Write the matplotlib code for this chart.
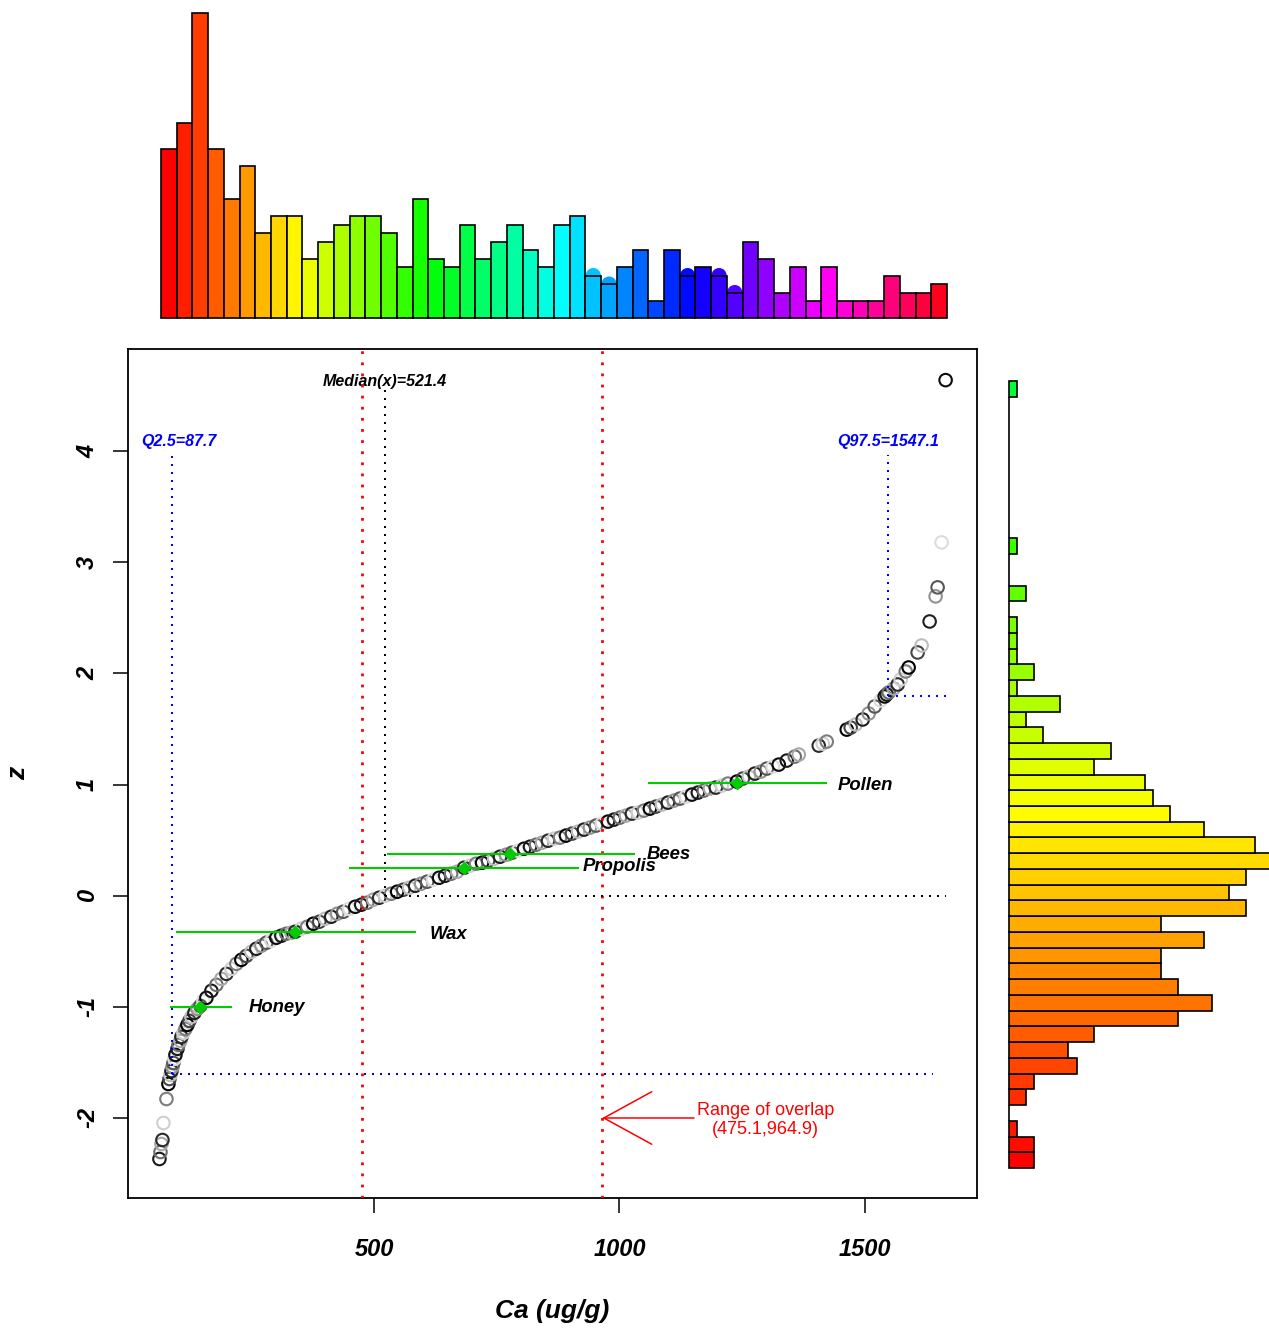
import colorsys
import matplotlib
matplotlib.use("Agg")
import matplotlib.pyplot as plt

plt.rcParams['font.family'] = ['Liberation Sans', 'DejaVu Sans']

W, H = 1269, 1329

# ---------------- data ----------------
ca_values = [62.1, 64.2, 66.2, 68.2, 70.3, 76.4, 80.4, 82.5, 84.5, 86.6, 88.6, 90.6, 92.7, 94.7,
             98.8, 100.8, 104.9, 106.9, 111.0, 115.1, 119.1, 123.2, 127.3, 133.4, 139.5,
             145.6, 151.7, 157.8, 168.0, 178.2, 188.4, 198.6, 208.8, 218.9, 229.1, 239.3,
             249.5, 259.7, 269.9, 280.0, 290.2, 300.4, 310.6, 320.8, 331.0, 339.1, 351.3,
             363.5, 375.8, 388.0, 400.2, 412.4, 424.6, 436.9, 449.1, 461.3, 473.5, 485.7,
             498.0, 510.2, 522.4, 534.6, 546.8, 559.1, 571.3, 583.5, 595.7, 607.9, 620.2,
             632.4, 644.6, 656.8, 669.0, 683.3, 695.5, 707.7, 719.9, 732.1, 744.4, 756.6,
             768.8, 781.0, 793.3, 805.5, 817.7, 829.9, 842.1, 854.4, 866.6, 878.8, 891.0,
             903.3, 915.5, 927.7, 939.9, 952.1, 964.4, 976.6, 988.8, 1001.0, 1013.2, 1025.5,
             1037.7, 1049.9, 1062.1, 1074.3, 1086.6, 1098.8, 1111.0, 1123.2, 1135.4, 1147.7,
             1159.9, 1172.1, 1184.3, 1196.5, 1208.8, 1221.0, 1239.3, 1251.5, 1263.7, 1276.0,
             1288.2, 1300.4, 1312.6, 1324.8, 1341.1, 1357.4, 1365.6, 1406.3, 1414.5, 1422.6,
             1463.4, 1471.5, 1481.7, 1496.0, 1508.2, 1520.4, 1532.6, 1540.8, 1544.9, 1549.0,
             1559.1, 1567.3, 1573.4, 1583.6, 1589.6, 1608.0, 1616.1, 1632.4, 1644.6, 1648.7,
             1656.8, 1665.0]
z_values = [-2.369, -2.306, -2.234, -2.198, -2.045, -1.829, -1.694, -1.649, -1.613, -1.577,
            -1.541, -1.505, -1.468, -1.432, -1.378, -1.342, -1.306, -1.270, -1.234, -1.198,
            -1.162, -1.126, -1.090, -1.054, -1.018, -0.991, -0.946, -0.919, -0.856, -0.802,
            -0.748, -0.703, -0.658, -0.613, -0.577, -0.541, -0.505, -0.477, -0.450, -0.423,
            -0.405, -0.378, -0.360, -0.342, -0.333, -0.324, -0.297, -0.279, -0.252, -0.234,
            -0.207, -0.189, -0.162, -0.144, -0.117, -0.099, -0.081, -0.063, -0.036, -0.018,
            0.0, 0.018, 0.036, 0.054, 0.072, 0.090, 0.108, 0.126, 0.144, 0.162, 0.180, 0.198,
            0.216, 0.252, 0.270, 0.288, 0.297, 0.315, 0.333, 0.351, 0.369, 0.387, 0.405,
            0.423, 0.441, 0.459, 0.477, 0.495, 0.514, 0.523, 0.541, 0.559, 0.577, 0.595,
            0.613, 0.631, 0.649, 0.667, 0.685, 0.703, 0.721, 0.739, 0.748, 0.766, 0.784,
            0.802, 0.820, 0.838, 0.856, 0.874, 0.892, 0.910, 0.928, 0.946, 0.964, 0.973,
            0.991, 1.009, 1.027, 1.054, 1.072, 1.099, 1.117, 1.144, 1.162, 1.180, 1.216,
            1.252, 1.270, 1.351, 1.369, 1.387, 1.495, 1.513, 1.541, 1.586, 1.640, 1.703,
            1.757, 1.793, 1.811, 1.829, 1.865, 1.901, 1.946, 2.018, 2.054, 2.189, 2.252,
            2.468, 2.694, 2.775, 3.180, 4.640]

top_counts = [20, 23, 36, 20, 14, 18, 10, 12, 12, 7, 9, 11, 12, 12, 10, 6, 14, 7, 6, 11,
              7, 9, 11, 8, 6, 11, 12, 5, 4, 6, 8, 2, 8, 5, 6, 5, 3, 9, 7, 3,
              6, 2, 6, 2, 2, 2, 5, 3, 3, 4]
top_dot_bins = [28, 29, 34, 36, 37]

right_counts = [3, 3, 1, 0, 2, 3, 8, 7, 10, 20, 24, 20, 18, 18, 23, 18, 28, 26, 28, 31,
                29, 23, 19, 17, 16, 10, 12, 4, 2, 6, 1, 3, 1, 1, 1, 0, 2, 0, 0, 1,
                0, 0, 0, 0, 0, 0, 0, 0, 0, 1]

overlap = (475.1, 964.9)
median_x = 521.4
q025, q975 = 87.7, 1547.1
z_q025, z_q975 = -1.6, 1.8
x_max = 1665.0

groups = ['Honey', 'Wax', 'Propolis', 'Bees', 'Pollen']
group_center = [145.6, 339.0, 682.7, 777.6, 1239.0]
group_low = [86.6, 98.8, 451.1, 527.9, 1060.7]
group_high = [208.8, 583.5, 915.5, 1028.9, 1420.6]
group_z = [-1.0, -0.322, 0.250, 0.376, 1.015]
group_label_x = [243.4, 614.0, 925.6, 1056.0, 1445.0]
group_label_z = [-1.05, -0.39, 0.225, 0.333, 0.955]

x_ticks = [500, 1000, 1500]
x_tick_labels = ['500', '1000', '1500']
y_ticks = [-2, -1, 0, 1, 2, 3, 4]
y_tick_labels = ['-2', '-1', '0', '1', '2', '3', '4']

# ---------------- style ----------------
grays = ['#1a1a1a', '#6e6e6e', '#a8a8a8', '#2b2b2b', '#cfcfcf', '#7d7d7d', '#000000',
         '#454545', '#bdbdbd', '#202020', '#939393', '#575757', '#dcdcdc', '#0d0d0d']
green = '#00CC00'


def rect(l, t, r, b):
    return [l / W, 1 - b / H, (r - l) / W, (b - t) / H]


fig = plt.figure(figsize=(W / 100, H / 100), dpi=100)

# main scatter
ax = fig.add_axes(rect(128, 349, 977, 1198))
ax.set_xlim(-2, 1729)
ax.set_ylim(-2.72, 4.92)
for s in ax.spines.values():
    s.set_linewidth(1.3)

cols = [grays[i % len(grays)] for i in range(len(ca_values))]
ax.scatter(ca_values, z_values, s=9.0 ** 2, facecolors='none', edgecolors=cols,
           linewidths=1.5, zorder=3)

# overlap range lines
for v in overlap:
    ax.axvline(v, color='red', lw=2.0, ls=(0, (1, 3)), zorder=4)
# median
ax.plot([median_x, median_x], [0, 4.57], color='black', lw=1.44, ls=(0, (1, 3)), zorder=4)
ax.plot([median_x, x_max], [0, 0], color='black', lw=1.44, ls=(0, (1, 3)), zorder=4)
# quantiles
ax.plot([q025, q025], [z_q025, 3.97], color='blue', lw=1.44, ls=(0, (1, 3)), zorder=4)
ax.plot([q025, x_max - 25], [z_q025, z_q025], color='blue', lw=1.44, ls=(0, (1, 3)), zorder=4)
ax.plot([q975, q975], [z_q975, 3.97], color='blue', lw=1.44, ls=(0, (1, 3)), zorder=4)
ax.plot([q975, x_max], [z_q975, z_q975], color='blue', lw=1.44, ls=(0, (1, 3)), zorder=4)

tkw = dict(fontweight='bold', style='italic', fontsize=11.5)
ax.text(median_x, 4.59, 'Median(x)=%.1f' % median_x, ha='center', va='baseline', color='black', **tkw)
ax.text(q025 + 14, 4.045, 'Q2.5=%.1f' % q025, ha='center', va='baseline', color='blue', **tkw)
ax.text(q975, 4.045, 'Q97.5=%.1f' % q975, ha='center', va='baseline', color='blue', **tkw)

# groups
for name, c, lo, hi, zz, lx, lz in zip(groups, group_center, group_low, group_high,
                                        group_z, group_label_x, group_label_z):
    ax.plot([lo, hi], [zz, zz], color=green, lw=1.5, zorder=5)
    ax.plot([c], [zz], marker='D', ms=6, color=green, zorder=6)
    ax.text(lx, lz, name, ha='left', va='baseline', fontsize=13.3, fontweight='bold',
            style='italic', color='black')

# overlap annotation
ax.annotate('', xy=(overlap[1], -2.0), xytext=(1152, -2.0),
            arrowprops=dict(arrowstyle='->,head_length=3.45,head_width=1.89',
                            color='red', lw=1.1, shrinkA=0, shrinkB=0, mutation_scale=10))
ax.text(1298, -2.02, 'Range of overlap\n(%.1f,%.1f)' % overlap, ha='center', va='center',
        color='red', fontsize=13, linespacing=1.15)

ax.set_xticks(x_ticks)
ax.set_xticklabels(x_tick_labels, fontsize=17, fontweight='bold', style='italic')
ax.set_yticks(y_ticks)
ax.set_yticklabels(y_tick_labels, fontsize=17, fontweight='bold', style='italic',
                   rotation=90, va='center')
ax.tick_params(axis='both', direction='out', length=10.8, width=1.1)
ax.tick_params(axis='x', pad=18)
ax.tick_params(axis='y', pad=10)

fig.text(552 / W, 1 - 1311 / H, 'Ca (ug/g)', ha='center', va='center', fontsize=19,
         fontweight='bold', style='italic')
fig.text(18 / W, 1 - 773 / H, 'z', ha='center', va='center', fontsize=19,
         fontweight='bold', style='italic', rotation=90)

# top histogram
axt = fig.add_axes(rect(161, 13, 947, 318))
n_top = len(top_counts)
top_cols = [colorsys.hsv_to_rgb(i / n_top, 1, 1) for i in range(n_top)]
axt.bar(range(n_top), top_counts, width=1.0, align='edge', color=top_cols,
        edgecolor='black', linewidth=1.2, clip_on=False, zorder=2)
axt.scatter([b - 0.5 for b in top_dot_bins], [top_counts[b - 1] for b in top_dot_bins],
            s=11 ** 2, c=[top_cols[b - 1] for b in top_dot_bins], zorder=1, clip_on=False,
            linewidths=0)
axt.set_xlim(0, n_top)
axt.set_ylim(0, 36)
axt.axis('off')

# right histogram
axr = fig.add_axes(rect(1009, 381, 1269, 1168))
n_r = len(right_counts)
right_cols = [colorsys.hsv_to_rgb(0.0075 * i, 1, 1) for i in range(n_r)]
axr.barh(range(n_r), right_counts, height=1.0, align='edge', color=right_cols,
         edgecolor='black', linewidth=1.2, clip_on=False)
axr.set_ylim(0, n_r)
axr.set_xlim(0, 30.7)
axr.axis('off')

fig.savefig('out.png', dpi=100)
